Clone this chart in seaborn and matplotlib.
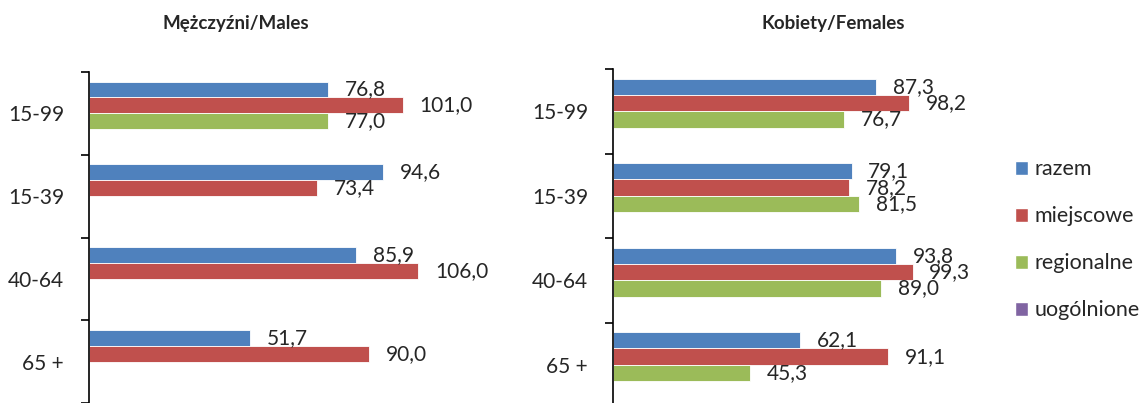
import numpy as np
import pandas as pd
import matplotlib
matplotlib.use("Agg")
import matplotlib.pyplot as plt
from matplotlib.patches import Patch
import seaborn as sns

# data
ages = ["15-99", "15-39", "40-64", "65 +"]
types = ["razem", "miejscowe", "regionalne", "uogólnione"]
colors = ["#4F81BD", "#C0504D", "#9BBB59", "#8064A2"]

males_razem = [76.8, 94.6, 85.9, 51.7]
males_miejscowe = [101.0, 73.4, 106.0, 90.0]
males_regionalne = [77.0, np.nan, np.nan, np.nan]
males_uogolnione = [np.nan, np.nan, np.nan, np.nan]

females_razem = [87.3, 79.1, 93.8, 62.1]
females_miejscowe = [98.2, 78.2, 99.3, 91.1]
females_regionalne = [76.7, 81.5, 89.0, 45.3]
females_uogolnione = [np.nan, np.nan, np.nan, np.nan]


def make_df(series):
    rows = []
    for t, vals in zip(types, series):
        for a, v in zip(ages, vals):
            rows.append({"wiek": a, "typ": t, "wartosc": v})
    return pd.DataFrame(rows).dropna()


df_m = make_df([males_razem, males_miejscowe, males_regionalne, males_uogolnione])
df_f = make_df([females_razem, females_miejscowe, females_regionalne, females_uogolnione])

sns.set_style("white")
plt.rcParams["font.family"] = ["Lato", "DejaVu Sans"]

fig = plt.figure(figsize=(11.48, 4.03), dpi=100)
ax_m = fig.add_axes([89 / 1148, 0.0, (462 - 89) / 1148, 1 - 72 / 403])
ax_f = fig.add_axes([613 / 1148, -4 / 403, (975 - 613) / 1148, (407 - 69) / 403])


def draw(ax, df):
    sns.barplot(data=df, y="wiek", x="wartosc", hue="typ",
                order=ages, hue_order=types, palette=colors, saturation=1,
                orient="h", width=0.77, errorbar=None, legend=False,
                edgecolor="white", linewidth=0.6, ax=ax)
    for c in ax.containers:
        ax.bar_label(c, fmt=lambda v: f"{v:.1f}".replace(".", ","),
                     padding=12, fontsize=15)
    ax.set_xlim(0, 120)
    ax.set_ylim(3.5, -0.5)
    ax.set_xlabel("")
    ax.set_ylabel("")
    ax.xaxis.set_visible(False)
    for s in ["top", "right", "bottom"]:
        ax.spines[s].set_visible(False)
    ax.spines["left"].set_color("black")
    ax.spines["left"].set_linewidth(1.2)
    # ticks at the group borders, labels at the centres
    ax.set_yticks([-0.5, 0.5, 1.5, 2.5, 3.5])
    ax.set_yticklabels([])
    ax.tick_params(axis="y", which="major", left=True, length=6, width=1.2, color="black")
    ax.set_yticks(range(len(ages)), minor=True)
    ax.set_yticklabels(ages, minor=True, fontsize=15)
    ax.tick_params(axis="y", which="minor", left=True, length=0, pad=18)


draw(ax_m, df_m)
draw(ax_f, df_f)

fig.text(236 / 1148, 1 - 24 / 403, "Mężczyźni/Males", ha="center", va="center",
         fontsize=13.5, fontweight="bold")
fig.text(833 / 1148, 1 - 24 / 403, "Kobiety/Females", ha="center", va="center",
         fontsize=13.5, fontweight="bold")

handles = [Patch(facecolor=c, label=t) for c, t in zip(colors, types)]
fig.legend(handles=handles, loc="center left", bbox_to_anchor=(1015 / 1148, 0.405),
           frameon=False, fontsize=15.5, handlelength=0.62, handleheight=0.62,
           handletextpad=0.3, labelspacing=1.25, borderpad=0, borderaxespad=0)

fig.savefig("out.png", dpi=100)
